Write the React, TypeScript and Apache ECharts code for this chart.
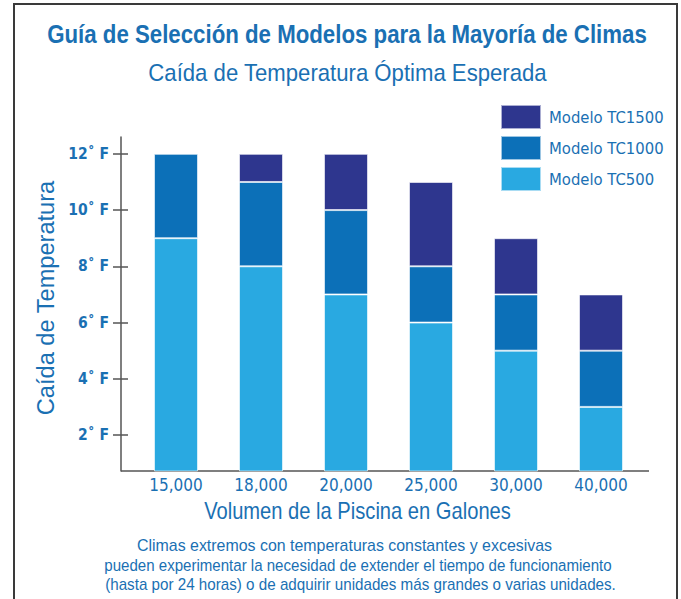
import React, { useEffect, useRef } from "react";
import * as echarts from "echarts";

const categories = ["15,000", "18,000", "20,000", "25,000", "30,000", "40,000"];
const tc500 = [9, 8, 7, 6, 5, 3];
const tc1000 = [3, 3, 3, 2, 2, 2];
const tc1500: (number | null)[] = [null, 1, 2, 3, 2, 2];
const yTicks = [2, 4, 6, 8, 10, 12];
const titleText = "Guía de Selección de Modelos para la Mayoría de Climas";
const subtitleText = "Caída de Temperatura Óptima Esperada";
const yName = "Caída de Temperatura";
const xName = "Volumen de la Piscina en Galones";
const footLines = [
  "Climas extremos con temperaturas constantes y excesivas",
  "pueden experimentar la necesidad de extender el tiempo de funcionamiento",
  "(hasta por 24 horas) o de adquirir unidades más grandes o varias unidades.",
];

const BASE = '"Liberation Sans", Arial, sans-serif';
const COND = '"DejaVu Sans Condensed", "Liberation Sans", sans-serif';
const BLUE = "#1a70b3";

function fitScale(text: string, weight: string, size: number, target: number) {
  const ctx = document.createElement("canvas").getContext("2d")!;
  ctx.font = `${weight} ${size}px "Liberation Sans"`;
  const w = ctx.measureText(text).width || target;
  return target / w;
}

export default function App() {
  const ref = useRef<HTMLDivElement>(null);
  useEffect(() => {
    document.body.style.margin = "0";
    const chart = echarts.init(ref.current!, null, { renderer: "svg" });
    const barStyle = (c: string) => ({ color: c, borderColor: "rgba(255,255,255,0.6)", borderWidth: 1 });
    const condText = (
      text: string,
      x: number,
      y: number,
      size: number,
      target: number,
      weight = "normal",
      rotation = 0
    ) => ({
      type: "text",
      x,
      y,
      rotation,
      scaleX: fitScale(text, weight, size, target),
      style: {
        text,
        fontFamily: BASE,
        fontWeight: weight,
        fontSize: size,
        fill: BLUE,
        align: "center",
        verticalAlign: "middle",
      },
    });
    chart.setOption({
      animation: false,
      textStyle: { fontFamily: COND },
      legend: {
        orient: "vertical",
        left: 500,
        top: 104,
        padding: 0,
        itemWidth: 40,
        itemHeight: 24,
        itemGap: 5,
        icon: "rect",
        data: ["Modelo TC1500", "Modelo TC1000", "Modelo TC500"],
        textStyle: { fontFamily: COND, fontSize: 16.5, color: BLUE, padding: [0, 0, 0, 3] },
      },
      grid: { left: 133.5, right: 37.5, top: 137, bottom: 128 },
      xAxis: {
        type: "category",
        data: categories,
        axisLine: { show: false },
        axisTick: { show: false },
        axisLabel: { margin: 5, fontFamily: COND, fontSize: 17, color: BLUE },
      },
      yAxis: [
        {
          type: "value",
          min: 0.72,
          max: 12.6,
          offset: 12.5,
          splitLine: { show: false },
          axisLine: { show: true, lineStyle: { color: "#555", width: 1.5 } },
          axisTick: { show: true, length: 8, customValues: yTicks, lineStyle: { color: "#555", width: 1.5 } },
          axisLabel: {
            margin: 12,
            customValues: yTicks,
            formatter: (v: number) => `${v}˚ F`,
            fontFamily: COND,
            fontWeight: "bold",
            fontSize: 15.5,
            color: BLUE,
          },
        },
        {
          type: "value",
          min: 0.72,
          max: 12.6,
          offset: 12.5,
          position: "left",
          splitLine: { show: false },
          axisLine: { show: false },
          axisTick: { show: true, inside: true, length: 7, customValues: yTicks, lineStyle: { color: "#555", width: 1.5 } },
          axisLabel: { show: false },
        },
      ],
      series: [
        { name: "Modelo TC500", type: "bar", stack: "t", barWidth: 44, data: tc500, itemStyle: barStyle("#29a9e1") },
        { name: "Modelo TC1000", type: "bar", stack: "t", barWidth: 44, data: tc1000, itemStyle: barStyle("#0c70b8") },
        { name: "Modelo TC1500", type: "bar", stack: "t", barWidth: 44, data: tc1500, itemStyle: barStyle("#2e368e") },
      ],
      graphic: [
        {
          type: "polyline",
          shape: { points: [[14, 620], [14, 4], [677, 4], [677, 620]] },
          style: { stroke: "#3a3a3a", lineWidth: 2, fill: null },
        },
        {
          type: "line",
          shape: { x1: 121, y1: 471, x2: 649, y2: 471 },
          style: { stroke: "#555", lineWidth: 1.5 },
        },
        condText(titleText, 347, 34, 26, 600, "bold"),
        condText(subtitleText, 347.5, 73, 24, 399),
        condText(yName, 45, 298, 24, 235, "normal", Math.PI / 2),
        condText(xName, 357.5, 511, 23, 307),
        condText(footLines[0], 344.5, 545, 17, 415),
        condText(footLines[1], 358, 564.5, 17, 508),
        condText(footLines[2], 360.5, 584, 17, 511),
      ],
    });
    return () => chart.dispose();
  }, []);
  return <div ref={ref} style={{ width: 681, height: 599 }} />;
}
